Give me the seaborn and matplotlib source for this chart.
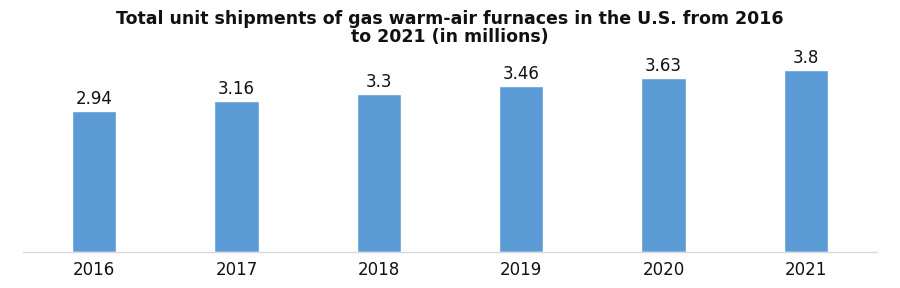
import matplotlib
matplotlib.use("Agg")
import matplotlib.pyplot as plt
import seaborn as sns
import pandas as pd

years = ["2016", "2017", "2018", "2019", "2020", "2021"]
shipments = [2.94, 3.16, 3.3, 3.46, 3.63, 3.8]
labels = ["2.94", "3.16", "3.3", "3.46", "3.63", "3.8"]
title = "Total unit shipments of gas warm-air furnaces in the U.S. from 2016\nto 2021 (in millions)"

sns.set_theme(style="white")
plt.rcParams['font.family'] = ['DejaVu Sans']

df = pd.DataFrame({"year": years, "value": shipments})

fig = plt.figure(figsize=(9, 2.88), dpi=100)
ax = fig.add_axes([23/900, 36/288, 854/900, 191.6/288])
sns.barplot(data=df, x="year", y="value", color="#5B9BD5", saturation=1,
            width=0.31, ax=ax)
ax.set_ylim(0, 4)
ax.set_xlim(-0.5, len(years) - 0.5)
for s in ["top", "left", "right"]:
    ax.spines[s].set_visible(False)
ax.spines["bottom"].set_color("#D9D9D9")
ax.spines["bottom"].set_linewidth(1)
ax.set_yticks([])
ax.set_xlabel("")
ax.set_ylabel("")
ax.tick_params(axis="x", length=0, pad=6.5, labelsize=12, labelcolor="#111111")
ax.bar_label(ax.containers[0], labels=labels, padding=2, fontsize=12,
             color="#111111", clip_on=False)
fig.text(0.5, 1 - 28/288, title, ha="center", va="center", fontsize=12.5,
         fontweight="bold", color="#111111", linespacing=1.05)
fig.savefig("out.png", dpi=100)
